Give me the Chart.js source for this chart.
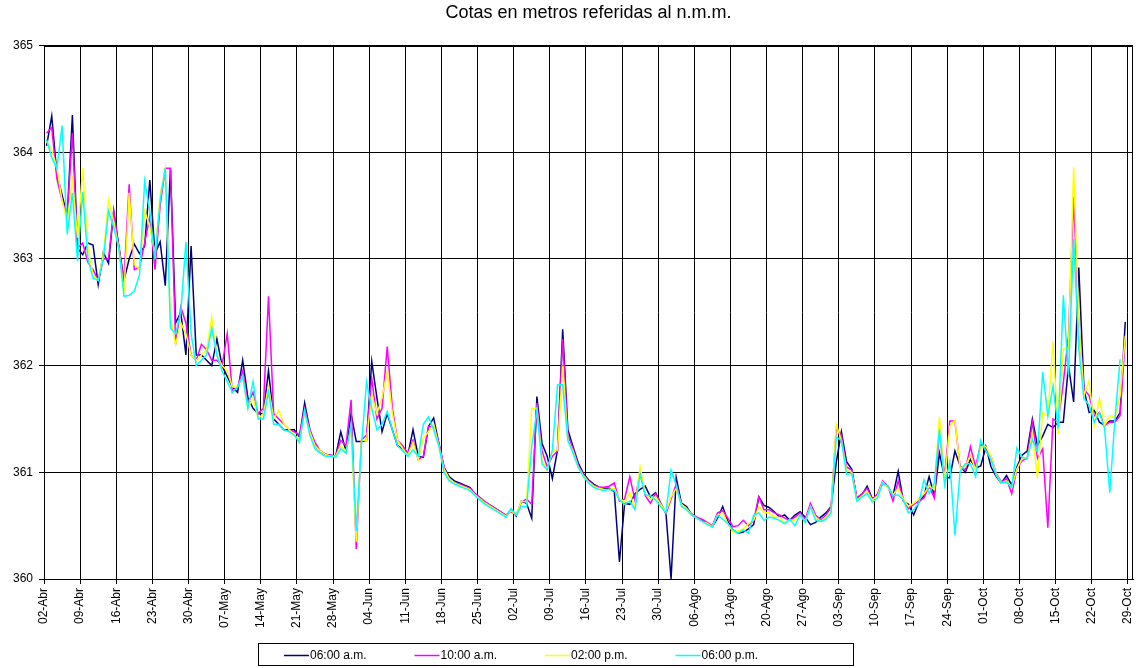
<!DOCTYPE html>
<html>
<head>
<meta charset="utf-8">
<title>Cotas</title>
<script src="https://cdn.jsdelivr.net/npm/chart.js@4/dist/chart.umd.min.js"></script>
<style>
  body { margin: 0; background: #fff; }
</style>
</head>
<body>
<canvas id="grafico" width="1136" height="668"></canvas>
<script>
// etiquetas semanales del eje X (cada 7 dias desde el 02-Abr)
const fechas = [
  '02-Abr', '09-Abr', '16-Abr', '23-Abr', '30-Abr', '07-May', '14-May', '21-May',
  '28-May', '04-Jun', '11-Jun', '18-Jun', '25-Jun', '02-Jul', '09-Jul', '16-Jul',
  '23-Jul', '30-Jul', '06-Ago', '13-Ago', '20-Ago', '27-Ago', '03-Sep', '10-Sep',
  '17-Sep', '24-Sep', '01-Oct', '08-Oct', '15-Oct', '22-Oct', '29-Oct'
]

const horas = ['06:00 a.m.', '10:00 a.m.', '02:00 p.m.', '06:00 p.m.']

// cotas diarias (m) desde el 02-Abr, una lectura por dia
const cotas0600am = [
  364.06, 364.34, 363.79, 363.60, 363.40, 364.35, 363.10, 363.04, 363.15, 363.13,
  362.76, 363.06, 362.96, 363.45, 363.12, 362.80, 363.00, 363.14, 363.05, 363.12,
  363.74, 363.05, 363.16, 362.75, 363.85, 362.40, 362.50, 362.10, 363.12, 362.10,
  362.10, 362.05, 362.00, 362.25, 362.00, 361.90, 361.80, 361.75, 362.05, 361.70,
  361.60, 361.55, 361.55, 361.95, 361.50, 361.45, 361.40, 361.40, 361.40, 361.33,
  361.65, 361.40, 361.25, 361.20, 361.17, 361.16, 361.15, 361.38, 361.20, 361.55,
  361.29, 361.29, 361.30, 362.04, 361.70, 361.38, 361.55, 361.40, 361.25, 361.22,
  361.16, 361.40, 361.15, 361.14, 361.43, 361.51, 361.27, 361.05, 360.96, 360.92,
  360.90, 360.88, 360.86, 360.80, 360.76, 360.72, 360.69, 360.66, 360.63, 360.59,
  360.65, 360.59, 360.73, 360.71, 360.57, 361.71, 361.27, 361.15, 360.94, 361.21,
  362.34, 361.40, 361.24, 361.09, 360.99, 360.93, 360.89, 360.86, 360.85, 360.85,
  360.82, 360.16, 360.71, 360.70, 360.80, 360.84, 360.87, 360.77, 360.81, 360.71,
  360.62, 360.00, 360.95, 360.71, 360.68, 360.60, 360.57, 360.55, 360.52, 360.49,
  360.57, 360.68, 360.54, 360.46, 360.43, 360.44, 360.47, 360.51, 360.77, 360.69,
  360.67, 360.63, 360.58, 360.60, 360.55, 360.60, 360.63, 360.58, 360.51, 360.53,
  360.58, 360.62, 360.68, 361.09, 361.38, 361.10, 361.03, 360.75, 360.79, 360.87,
  360.75, 360.79, 360.90, 360.87, 360.78, 361.01, 360.73, 360.70, 360.60, 360.72,
  360.78, 360.96, 360.78, 361.18, 360.95, 360.95, 361.20, 361.06, 361.00, 361.12,
  361.04, 361.06, 361.24, 361.05, 360.96, 360.90, 360.97, 360.88, 361.05, 361.16,
  361.20, 361.50, 361.25, 361.34, 361.45, 361.42, 361.47, 361.47, 362.00, 361.66,
  362.92, 361.78, 361.56, 361.58, 361.47, 361.44, 361.48, 361.48, 361.56, 362.41
]

const cotas1000am = [
  364.18, 364.23, 363.75, 363.55, 363.40, 364.18, 363.10, 363.15, 362.97, 362.90,
  362.80, 363.00, 363.00, 363.45, 363.10, 362.80, 363.70, 362.90, 362.92, 363.15,
  363.40, 362.90, 363.50, 363.85, 363.85, 362.20, 362.55, 362.40, 362.10, 362.05,
  362.20, 362.15, 362.05, 362.05, 362.00, 362.30, 361.75, 361.80, 361.95, 361.65,
  361.75, 361.55, 361.60, 362.65, 361.55, 361.50, 361.45, 361.40, 361.38, 361.35,
  361.60, 361.40, 361.28, 361.20, 361.17, 361.16, 361.15, 361.30, 361.25, 361.68,
  360.28, 361.30, 361.35, 361.88, 361.50, 361.60, 362.18, 361.60, 361.30, 361.25,
  361.18, 361.30, 361.12, 361.15, 361.43, 361.43, 361.28, 361.05, 360.93, 360.90,
  360.89, 360.87, 360.85, 360.80, 360.76, 360.72, 360.69, 360.66, 360.63, 360.60,
  360.63, 360.60, 360.72, 360.75, 360.70, 361.65, 361.20, 361.05, 361.15, 361.20,
  362.25, 361.35, 361.22, 361.07, 360.98, 360.92, 360.88, 360.86, 360.86, 360.87,
  360.90, 360.73, 360.75, 360.96, 360.74, 361.00, 360.78, 360.71, 360.80, 360.71,
  360.61, 360.75, 360.89, 360.70, 360.66, 360.61, 360.58, 360.56, 360.53, 360.50,
  360.62, 360.64, 360.57, 360.49, 360.50, 360.55, 360.50, 360.55, 360.77, 360.65,
  360.65, 360.62, 360.60, 360.57, 360.55, 360.58, 360.62, 360.56, 360.71, 360.60,
  360.55, 360.60, 360.67, 361.41, 361.35, 361.05, 361.02, 360.76, 360.80, 360.85,
  360.74, 360.80, 360.92, 360.87, 360.73, 360.92, 360.74, 360.66, 360.70, 360.73,
  360.76, 360.87, 360.76, 361.40, 360.96, 361.48, 361.48, 361.05, 361.02, 361.24,
  361.05, 361.27, 361.20, 361.15, 360.99, 360.91, 360.94, 360.80, 361.03, 361.11,
  361.13, 361.47, 361.13, 361.22, 360.48, 361.50, 361.47, 361.84, 362.28, 363.58,
  362.38, 361.78, 361.72, 361.53, 361.56, 361.44, 361.47, 361.47, 361.53, 362.25
]

const cotas0200pm = [
  364.10, 364.02, 363.85, 363.55, 363.35, 363.74, 363.20, 363.85, 363.10, 362.85,
  362.80, 363.05, 363.55, 363.35, 363.10, 362.68, 363.62, 362.95, 362.90, 363.45,
  363.30, 363.05, 363.60, 363.85, 362.45, 362.20, 362.40, 362.30, 362.10, 362.05,
  362.10, 362.15, 362.45, 362.10, 362.00, 361.95, 361.80, 361.80, 361.90, 361.60,
  361.70, 361.50, 361.55, 361.80, 361.50, 361.58, 361.45, 361.40, 361.35, 361.30,
  361.55, 361.38, 361.25, 361.20, 361.17, 361.15, 361.15, 361.25, 361.20, 361.40,
  360.35, 361.30, 361.30, 361.73, 361.55, 361.70, 361.95, 361.55, 361.30, 361.22,
  361.16, 361.28, 361.12, 361.32, 361.38, 361.45, 361.25, 361.03, 360.94, 360.90,
  360.88, 360.86, 360.84, 360.79, 360.75, 360.71, 360.68, 360.65, 360.62, 360.59,
  360.64, 360.60, 360.73, 360.72, 361.60, 361.60, 361.12, 361.02, 361.20, 361.21,
  362.00, 361.30, 361.20, 361.05, 360.97, 360.91, 360.87, 360.85, 360.84, 360.84,
  360.85, 360.75, 360.72, 360.81, 360.66, 361.05, 360.80, 360.75, 360.77, 360.70,
  360.63, 360.77, 360.85, 360.70, 360.66, 360.60, 360.57, 360.54, 360.52, 360.49,
  360.60, 360.62, 360.52, 360.44, 360.45, 360.47, 360.52, 360.55, 360.68, 360.62,
  360.62, 360.58, 360.58, 360.53, 360.55, 360.55, 360.60, 360.54, 360.68, 360.58,
  360.54, 360.58, 360.64, 361.45, 361.30, 361.02, 361.00, 360.74, 360.78, 360.82,
  360.74, 360.78, 360.91, 360.85, 360.79, 360.85, 360.75, 360.68, 360.71, 360.75,
  360.80, 360.87, 360.84, 361.52, 360.91, 361.43, 361.49, 361.04, 361.05, 361.16,
  361.02, 361.24, 361.24, 361.15, 360.98, 360.90, 360.92, 360.86, 361.03, 361.13,
  361.13, 361.36, 360.95, 361.56, 361.53, 362.23, 361.36, 362.16, 362.16, 363.86,
  362.41, 361.72, 361.86, 361.44, 361.69, 361.44, 361.53, 361.52, 361.72, 362.28
]

const cotas0600pm = [
  364.12, 363.95, 363.85, 364.25, 363.23, 363.62, 362.98, 363.63, 363.00, 362.82,
  362.80, 363.00, 363.45, 363.30, 363.10, 362.65, 362.66, 362.70, 362.85, 363.73,
  363.45, 363.00, 363.55, 363.85, 362.35, 362.30, 362.50, 363.16, 362.30, 362.00,
  362.05, 362.10, 362.35, 362.10, 361.95, 361.85, 361.75, 361.80, 361.90, 361.60,
  361.85, 361.50, 361.50, 361.75, 361.45, 361.45, 361.40, 361.38, 361.35, 361.28,
  361.58, 361.35, 361.22, 361.18, 361.15, 361.15, 361.14, 361.22, 361.18, 361.45,
  360.45, 361.25, 361.85, 361.60, 361.40, 361.45, 361.57, 361.40, 361.25, 361.20,
  361.15, 361.21, 361.15, 361.45, 361.52, 361.40, 361.25, 361.00, 360.92, 360.89,
  360.87, 360.85, 360.83, 360.78, 360.74, 360.70, 360.67, 360.64, 360.61, 360.58,
  360.66, 360.60, 360.68, 360.68, 361.24, 361.58, 361.08, 361.02, 361.21, 361.82,
  361.82, 361.30, 361.18, 361.05, 360.96, 360.90, 360.86, 360.84, 360.83, 360.84,
  360.83, 360.74, 360.70, 360.73, 360.65, 360.98, 360.79, 360.78, 360.74, 360.68,
  360.62, 361.02, 360.88, 360.68, 360.65, 360.60, 360.57, 360.54, 360.51, 360.49,
  360.60, 360.56, 360.52, 360.46, 360.43, 360.46, 360.43, 360.60, 360.62, 360.55,
  360.58, 360.57, 360.55, 360.52, 360.56, 360.50, 360.60, 360.53, 360.68, 360.55,
  360.54, 360.56, 360.62, 361.33, 361.30, 360.98, 360.99, 360.73, 360.77, 360.80,
  360.72, 360.76, 360.90, 360.87, 360.78, 360.79, 360.74, 360.62, 360.65, 360.71,
  360.93, 360.80, 360.90, 361.40, 360.88, 361.10, 360.41, 361.01, 361.08, 361.08,
  360.96, 361.30, 361.20, 361.12, 360.97, 360.90, 360.91, 360.86, 361.23, 361.14,
  361.13, 361.31, 361.19, 361.94, 361.53, 361.81, 361.41, 362.66, 361.91, 363.19,
  362.16, 361.69, 361.63, 361.47, 361.56, 361.41, 360.81, 361.50, 362.06, null
]

const colores = ['#000080', '#ff00ff', '#ffff00', '#00ffff']

const fuente = 'Arial, "Liberation Sans", sans-serif'

// cada lectura se centra en su dia: el dia n ocupa el tramo [n, n+1]
const aPuntos = serie => serie.map((v, i) => ({ x: i + 0.5, y: v }))

const datasets = [cotas0600am, cotas1000am, cotas0200pm, cotas0600pm].map((serie, i) => ({
  label: horas[i],
  data: aPuntos(serie),
  borderColor: colores[i],
  backgroundColor: colores[i],
  borderWidth: 1.5,
  pointRadius: 0,
  tension: 0,
  order: 4 - i
}))

// marco del area de trazado y leyenda enmarcada debajo del eje
const marcoYLeyenda = {
  id: 'marcoYLeyenda',
  afterDatasetsDraw(chart) {
    const { ctx, chartArea: a } = chart
    ctx.save()
    ctx.strokeStyle = '#000'
    ctx.lineWidth = 1
    const l = Math.round(a.left) + 0.5
    const t = Math.round(a.top) + 0.5
    const r = Math.round(a.right) - 0.5
    const b = Math.round(a.bottom) + 0.5
    ctx.strokeRect(l, t, r - l, b - t)
    ctx.restore()
  },
  afterDraw(chart) {
    const ctx = chart.ctx
    ctx.save()
    ctx.strokeStyle = '#000'
    ctx.lineWidth = 1
    ctx.strokeRect(258.5, 643.5, 595, 22)
    ctx.font = '12px ' + fuente
    ctx.textBaseline = 'middle'
    ctx.textAlign = 'left'
    chart.data.datasets.forEach((ds, i) => {
      const x = 284 + i * 130.5
      const y = 655.5
      ctx.strokeStyle = ds.borderColor
      ctx.lineWidth = 1.5
      ctx.beginPath()
      ctx.moveTo(x, y)
      ctx.lineTo(x + 25, y)
      ctx.stroke()
      ctx.fillStyle = '#000'
      ctx.fillText(ds.label, x + 26, y)
    })
    ctx.restore()
  }
}

new Chart(document.getElementById('grafico'), {
  type: 'line',
  data: { datasets },
  options: {
    responsive: false,
    animation: false,
    events: [],
    layout: { padding: { top: 0, right: 3, bottom: 0, left: 0 } },
    plugins: {
      legend: { display: false },
      tooltip: { enabled: false },
      title: {
        display: true,
        text: 'Cotas en metros referidas al n.m.m.',
        fullSize: false,
        color: '#000',
        font: { family: fuente, size: 18, weight: 'normal' },
        padding: { top: 2, bottom: 22 }
      }
    },
    scales: {
      x: {
        type: 'linear',
        min: 0,
        max: 211,
        afterBuildTicks: s => { s.ticks = fechas.map((f, i) => ({ value: i * 7 })) },
        afterFit: s => {
          s.height = 89
          s.paddingLeft = 0
          s.paddingRight = 0
        },
        ticks: {
          autoSkip: false,
          minRotation: 90,
          maxRotation: 90,
          padding: 4,
          color: '#000',
          font: { family: fuente, size: 12 },
          callback: v => fechas[Math.round(v / 7)]
        },
        grid: { color: '#000', lineWidth: 1, tickLength: 5 },
        border: { color: '#000' }
      },
      y: {
        min: 360,
        max: 365,
        afterFit: s => { s.width = 44 },
        ticks: {
          stepSize: 1,
          padding: 6,
          color: '#000',
          font: { family: fuente, size: 12 }
        },
        grid: { color: '#000', lineWidth: 1, tickLength: 5 },
        border: { color: '#000' }
      }
    }
  },
  plugins: [marcoYLeyenda]
})
</script>
</body>
</html>
